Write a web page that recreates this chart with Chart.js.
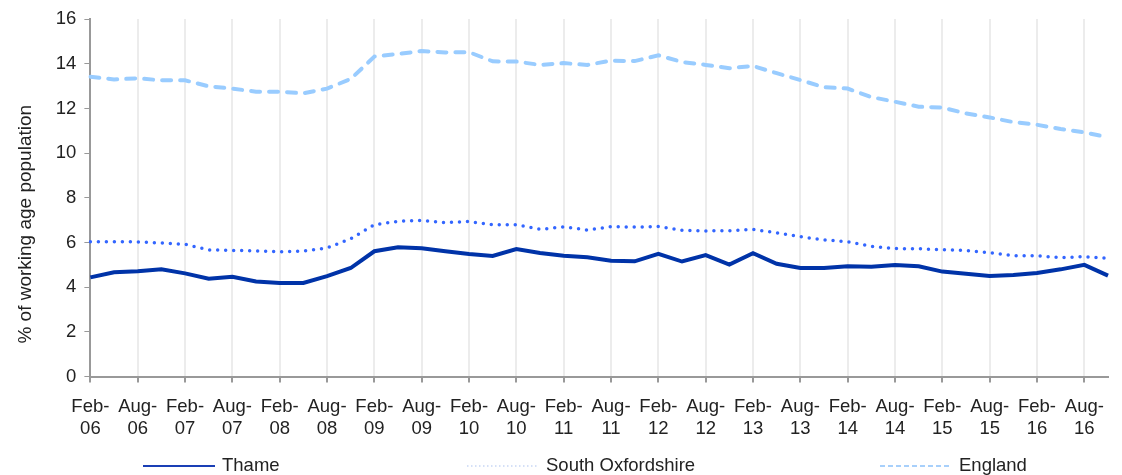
<!DOCTYPE html>
<html>
<head>
<meta charset="utf-8">
<script src="https://cdn.jsdelivr.net/npm/chart.js@4"></script>
<style>
    body { margin: 0; background: #fff; }
    .wrap { position: relative; width: 1122px; height: 475px; font-family: "Liberation Sans", Arial, sans-serif; }
    .legend-item { position: absolute; top: 455px; font-size: 18.5px; color: #222; line-height: 20px; white-space: nowrap; }
    .legend-item svg { position: absolute; top: 0; left: 0; }
    .legend-item span { position: absolute; left: 79px; }
</style>
</head>
<body>
<div class="wrap">
    <canvas id="chart" width="1122" height="475"></canvas>
    <div id="legend"></div>
</div>
<script>
// quarterly labels, Feb-06 to Nov-16
const labels = [
    'Feb-06', 'May-06', 'Aug-06', 'Nov-06', 'Feb-07', 'May-07', 'Aug-07', 'Nov-07',
    'Feb-08', 'May-08', 'Aug-08', 'Nov-08', 'Feb-09', 'May-09', 'Aug-09', 'Nov-09',
    'Feb-10', 'May-10', 'Aug-10', 'Nov-10', 'Feb-11', 'May-11', 'Aug-11', 'Nov-11',
    'Feb-12', 'May-12', 'Aug-12', 'Nov-12', 'Feb-13', 'May-13', 'Aug-13', 'Nov-13',
    'Feb-14', 'May-14', 'Aug-14', 'Nov-14', 'Feb-15', 'May-15', 'Aug-15', 'Nov-15',
    'Feb-16', 'May-16', 'Aug-16', 'Nov-16'
];

const thame = [
    4.44, 4.67, 4.71, 4.80, 4.62, 4.38, 4.47, 4.26, 4.19, 4.19, 4.50, 4.86,
    5.61, 5.79, 5.74, 5.61, 5.49, 5.40, 5.71, 5.53, 5.41, 5.34, 5.19, 5.16,
    5.49, 5.15, 5.44, 5.01, 5.52, 5.05, 4.86, 4.86, 4.94, 4.92, 5.00, 4.94,
    4.70, 4.60, 4.50, 4.55, 4.64, 4.80, 5.00, 4.52
];

const southOxon = [
    6.03, 6.03, 6.03, 5.98, 5.92, 5.67, 5.65, 5.62, 5.59, 5.62, 5.76, 6.17,
    6.80, 6.95, 6.99, 6.89, 6.94, 6.80, 6.80, 6.59, 6.70, 6.56, 6.71, 6.69,
    6.72, 6.55, 6.52, 6.53, 6.59, 6.43, 6.26, 6.12, 6.03, 5.83, 5.73, 5.72,
    5.68, 5.64, 5.55, 5.41, 5.41, 5.32, 5.37, 5.29
];

const england = [
    13.42, 13.30, 13.35, 13.26, 13.26, 12.99, 12.89, 12.75, 12.75, 12.68, 12.89, 13.32,
    14.32, 14.44, 14.57, 14.51, 14.52, 14.11, 14.10, 13.95, 14.03, 13.95, 14.14, 14.12,
    14.38, 14.08, 13.95, 13.80, 13.90, 13.58, 13.27, 12.95, 12.89, 12.51, 12.30, 12.08,
    12.04, 11.78, 11.60, 11.39, 11.27, 11.08, 10.93, 10.71
];

const yTitle = '% of working age population';

const font = { family: '"Liberation Sans", Arial, sans-serif', size: 18.5 };
const textColor = '#222';

const ctx = document.getElementById('chart').getContext('2d');
new Chart(ctx, {
    type: 'line',
    data: {
        labels: labels,
        datasets: [{
            label: 'Thame',
            data: thame,
            borderColor: '#0033a8',
            borderWidth: 4,
            pointRadius: 0,
            tension: 0
        }, {
            label: 'South Oxfordshire',
            data: southOxon,
            borderColor: '#3366ff',
            borderWidth: 3.5,
            borderDash: [0, 8],
            borderCapStyle: 'round',
            pointRadius: 0,
            tension: 0
        }, {
            label: 'England',
            data: england,
            borderColor: '#99ccff',
            borderWidth: 4,
            borderDash: [9, 9],
            borderCapStyle: 'round',
            pointRadius: 0,
            tension: 0
        }]
    },
    options: {
        responsive: false,
        animation: false,
        layout: { padding: { top: 10, right: 14, bottom: 22, left: 10 } },
        plugins: {
            legend: { display: false },
            tooltip: { enabled: false }
        },
        scales: {
            x: {
                offset: false,
                border: { color: '#999', width: 2 },
                grid: { color: '#ececec', lineWidth: 2, tickColor: '#999', tickLength: 6 },
                ticks: {
                    font: font,
                    color: textColor,
                    padding: 13,
                    maxRotation: 0,
                    autoSkip: false,
                    callback: function(value, index) {
                        if (index % 2 !== 0) return null;
                        const parts = labels[index].split('-');
                        return [parts[0] + '-', parts[1]];
                    }
                }
            },
            y: {
                min: 0,
                max: 16,
                border: { color: '#999', width: 2 },
                grid: { drawOnChartArea: false, tickColor: '#999', tickLength: 6 },
                ticks: { stepSize: 2, font: font, color: textColor, padding: 8 },
                title: {
                    display: true,
                    // trailing spaces push the title a little below the axis centre, as in the original
                    text: yTitle + '\u00a0'.repeat(10),
                    font: { family: font.family, size: 19 },
                    color: textColor,
                    padding: { top: 4, bottom: 11 }
                }
            }
        }
    }
});

// legend below the chart, laid out like the original
const legendItems = [
    { text: 'Thame', left: 143, color: '#1a3fb5', width: 2, dash: '' },
    { text: 'South Oxfordshire', left: 467, color: '#c8d6f5', width: 1.5, dash: '1.5 2.5' },
    { text: 'England', left: 880, color: '#a8d0fb', width: 2, dash: '5 3' }
];
document.getElementById('legend').innerHTML = legendItems.map(item => `
    <div class="legend-item" style="left:${item.left}px">
        <svg width="72" height="20"><line x1="0" y1="11" x2="72" y2="11" stroke="${item.color}" stroke-width="${item.width}" stroke-dasharray="${item.dash}"/></svg>
        <span>${item.text}</span>
    </div>
`).join('');
</script>
</body>
</html>
